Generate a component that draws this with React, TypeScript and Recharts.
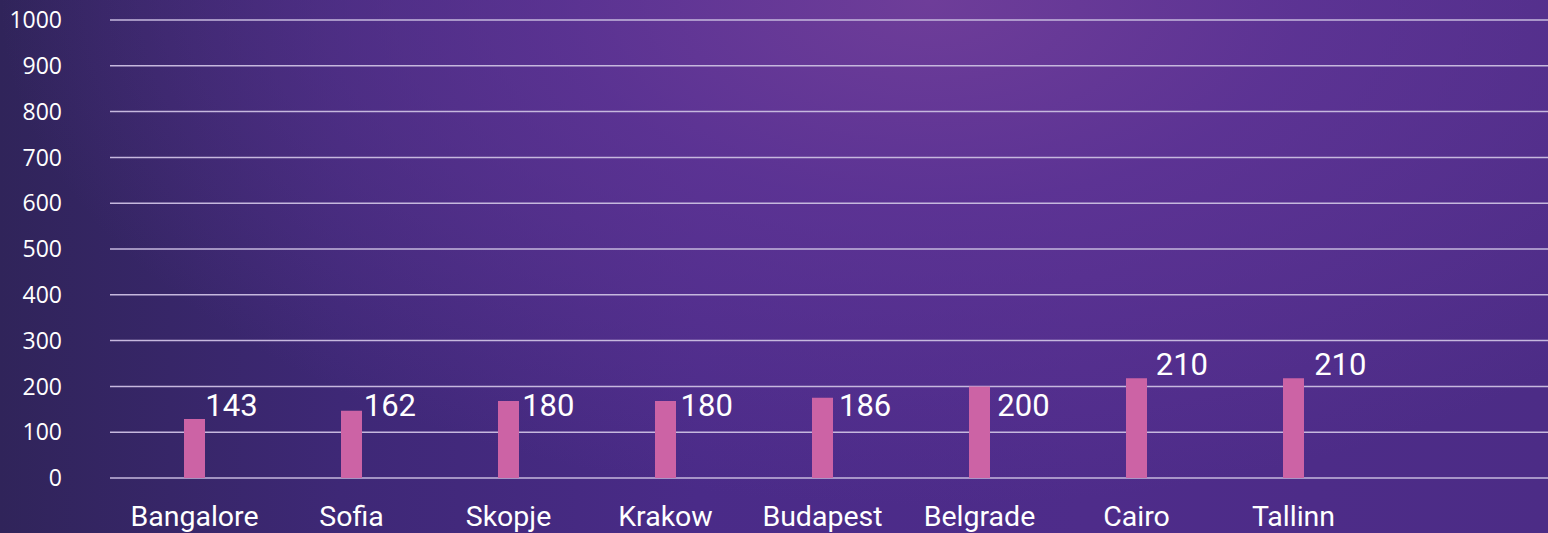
import React from 'react';
import { Bar, BarChart, CartesianGrid, LabelList, XAxis, YAxis } from 'recharts';

const cities = ['Bangalore', 'Sofia', 'Skopje', 'Krakow', 'Budapest', 'Belgrade', 'Cairo', 'Tallinn'];
// bar heights as drawn in the picture
const barValues = [129, 147, 168, 168, 175, 200, 218, 218];
// printed value labels
const valueLabels = ['143', '162', '180', '180', '186', '200', '210', '210'];
const yTicks = [0, 100, 200, 300, 400, 500, 600, 700, 800, 900, 1000];

const data = cities.map((city, i) => ({ city, value: barValues[i], label: valueLabels[i] }));

const W = 1548;
const H = 533;

const ValueLabel = (props: any) => {
  const { x, y, width, height, index } = props;
  const bottom = y + height;
  const lifted = barValues[index] > 210;
  const baseline = lifted ? y - 3 : bottom - 62;
  // labels drift slightly right across the chart in the original
  const offset = 37 + 1.4 * index;
  return (
    <text
      x={x + width / 2 + offset}
      y={baseline}
      textAnchor="middle"
      fill="#ffffff"
      fontFamily="Roboto"
      fontSize={31}
    >
      {valueLabels[index]}
    </text>
  );
};

export default function App() {
  return (
    <div
      style={{
        position: 'absolute',
        left: 0,
        top: 0,
        width: W,
        height: H,
        background:
          'radial-gradient(ellipse 60% 95% at 60% 0%, rgba(112,62,154,0.95) 0%, rgba(98,54,152,0.7) 40%, rgba(80,44,140,0) 100%), linear-gradient(90deg, #30245a 0%, #3e2876 22%, #4a2b88 45%, #4e2c8a 70%, #4c2c86 100%)',
      }}
    >
      <BarChart width={W} height={H} data={data} margin={{ top: 20, right: 0, left: 0, bottom: 0 }}>
        <CartesianGrid vertical={false} stroke="#c6b8de" strokeWidth={1.5} />
        <XAxis
          dataKey="city"
          axisLine={false}
          tickLine={false}
          tickSize={0}
          tickMargin={28}
          height={55}
          interval={0}
          padding={{ left: 6, right: 176 }}
          tick={{ fill: '#ffffff', fontFamily: 'Roboto', fontSize: 28.5 }}
        />
        <YAxis
          domain={[0, 1000]}
          ticks={yTicks}
          interval={0}
          width={110}
          axisLine={false}
          tickLine={false}
          tickSize={0}
          tickMargin={48}
          tick={{ fill: '#ffffff', fontFamily: 'Open Sans', fontSize: 23 }}
        />
        <Bar dataKey="value" fill="#cc63a5" barSize={21} isAnimationActive={false}>
          <LabelList dataKey="label" content={<ValueLabel />} />
        </Bar>
      </BarChart>
    </div>
  );
}
